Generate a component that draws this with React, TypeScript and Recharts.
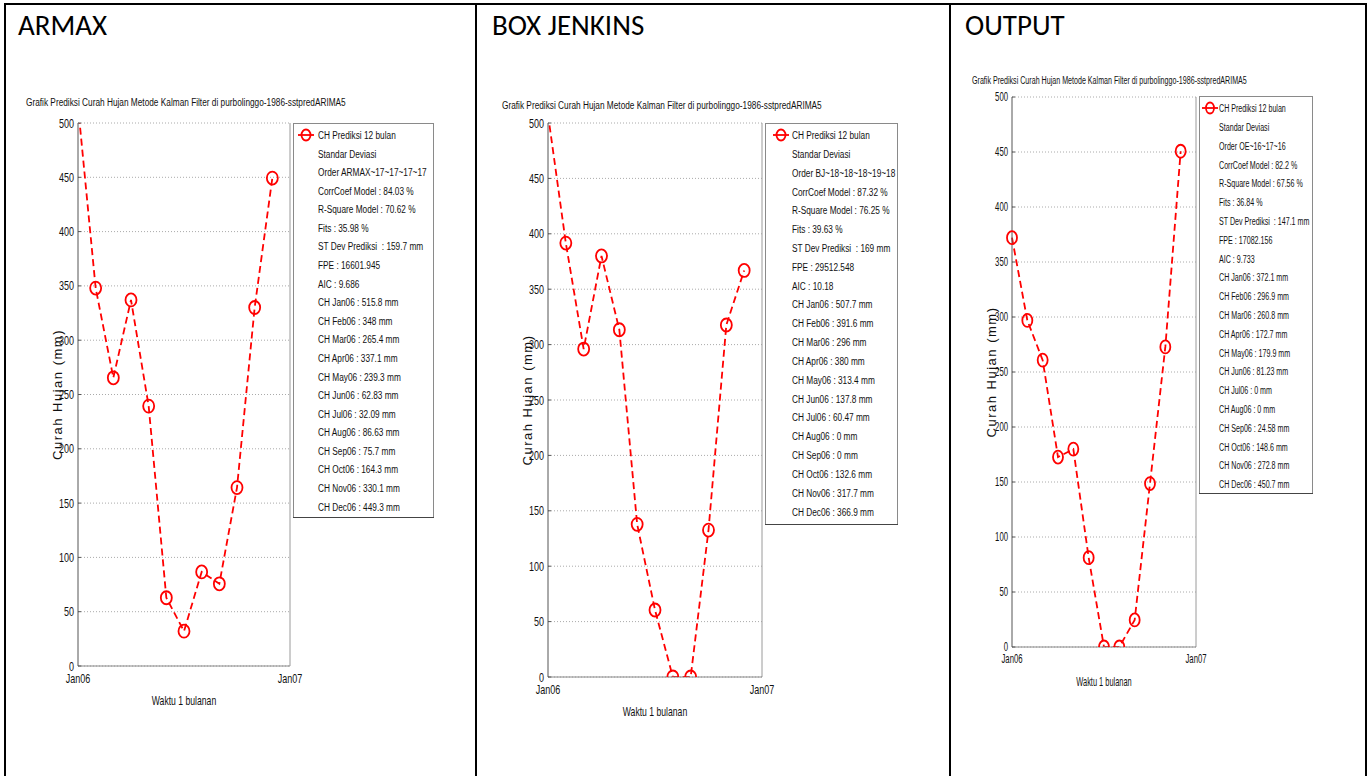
import React from 'react';
import { LineChart, Line, XAxis, YAxis, CartesianGrid, ReferenceLine } from 'recharts';

// ---------- data ----------
const monthLabels = ['Jan06', 'Feb06', 'Mar06', 'Apr06', 'May06', 'Jun06', 'Jul06', 'Aug06', 'Sep06', 'Oct06', 'Nov06', 'Dec06'];
const monthIndex = [0, 1, 2, 3, 4, 5, 6, 7, 8, 9, 10, 11];
const xTickValues = [0, 12];
const xTickLabels = ['Jan06', 'Jan07'];
const yTicks = [0, 50, 100, 150, 200, 250, 300, 350, 400, 450, 500];

const armaxValues = [515.8, 348, 265.4, 337.1, 239.3, 62.83, 32.09, 86.63, 75.7, 164.3, 330.1, 449.3];
const bjValues = [507.7, 391.6, 296, 380, 313.4, 137.8, 60.47, 0, 0, 132.6, 317.7, 366.9];
const oeValues = [372.1, 296.9, 260.8, 172.7, 179.9, 81.23, 0, 0, 24.58, 148.6, 272.8, 450.7];

const armaxStats = ['Standar Deviasi', 'Order ARMAX~17~17~17~17', 'CorrCoef Model : 84.03 %', 'R-Square Model : 70.62 %', 'Fits : 35.98 %', 'ST Dev Prediksi  : 159.7 mm', 'FPE : 16601.945', 'AIC : 9.686'];
const bjStats = ['Standar Deviasi', 'Order BJ~18~18~18~19~18', 'CorrCoef Model : 87.32 %', 'R-Square Model : 76.25 %', 'Fits : 39.63 %', 'ST Dev Prediksi  : 169 mm', 'FPE : 29512.548', 'AIC : 10.18'];
const oeStats = ['Standar Deviasi', 'Order OE~16~17~16', 'CorrCoef Model : 82.2 %', 'R-Square Model : 67.56 %', 'Fits : 36.84 %', 'ST Dev Prediksi  : 147.1 mm', 'FPE : 17082.156', 'AIC : 9.733'];

const panelHeaders = ['ARMAX', 'BOX JENKINS', 'OUTPUT'];
const seriesName = 'CH Prediksi 12 bulan';
const chartTitle = 'Grafik Prediksi Curah Hujan Metode Kalman Filter di purbolinggo-1986-sstpredARIMA5';
const yAxisTitle = 'Curah Hujan (mm)';
const xAxisTitle = 'Waktu 1 bulanan';

// ---------- layout ----------
const FONT = '"Liberation Sans", Arial, sans-serif';
const RED = '#ff0000';

const layouts = [
  {
    headerX: 18, plot: { l: 78, t: 123, r: 290, b: 666 }, sx: 0.72, titleX: 26, titleY: 102,
    legend: { l: 293, t: 123, r: 433, b: 517, textX: 318, firstY: 135, step: 18.58, markerX: 306 }, rx: 5.5, ry: 6.5,
  },
  {
    headerX: 492, plot: { l: 548, t: 123, r: 762, b: 677 }, sx: 0.72, titleX: 502, titleY: 105,
    legend: { l: 765, t: 123, r: 897, b: 524, textX: 792, firstY: 135, step: 18.83, markerX: 781 }, rx: 5.5, ry: 6.5,
  },
  {
    headerX: 965, plot: { l: 1012, t: 97, r: 1196, b: 647 }, sx: 0.62, titleX: 972, titleY: 80,
    legend: { l: 1199, t: 96, r: 1312, b: 493, textX: 1219, firstY: 108, step: 18.8, markerX: 1210 }, rx: 5, ry: 6.5,
  },
];

const datasets = [
  { values: armaxValues, stats: armaxStats },
  { values: bjValues, stats: bjStats },
  { values: oeValues, stats: oeStats },
];

const Y_AXIS_W = 48;
const X_AXIS_H = 54;
const TOP_M = 11;
const RIGHT_M = 22;

function YTick(props: any) {
  const { x, y, payload, sx } = props;
  return (
    <g transform={`translate(${x},${y})`}>
      <line x1={4} x2={7} y1={0} y2={0} stroke="#555" strokeWidth={1} />
      <text transform={`scale(${sx},1)`} x={0} y={0} textAnchor="end" dominantBaseline="central" fontSize={12.5} fontFamily={FONT} fill="#111">
        {payload.value}
      </text>
    </g>
  );
}

function XTick(props: any) {
  const { x, y, payload, sx } = props;
  const idx = xTickValues.indexOf(payload.value);
  return (
    <g transform={`translate(${x},${y})`}>
      <text transform={`scale(${sx},1)`} x={0} y={10} textAnchor="middle" dominantBaseline="central" fontSize={12.5} fontFamily={FONT} fill="#111">
        {xTickLabels[idx]}
      </text>
    </g>
  );
}

function Panel({ idx }: { idx: number }) {
  const L = layouts[idx];
  const D = datasets[idx];
  const data = monthIndex.map((m, i) => ({ x: m, v: D.values[i], name: monthLabels[i] }));
  const boxLeft = L.plot.l - Y_AXIS_W;
  const boxTop = L.plot.t - TOP_M;
  const width = L.plot.r + RIGHT_M - boxLeft;
  const height = L.plot.b + X_AXIS_H - boxTop;
  const renderDot = (p: any) => {
    if (p.cx == null || p.cy == null) return <g key={`d${p.index}`} />;
    return <ellipse key={`d${p.index}`} cx={p.cx} cy={p.cy} rx={L.rx} ry={L.ry} stroke={RED} strokeWidth={1.8} fill="none" />;
  };
  return (
    <div style={{ position: 'absolute', left: boxLeft, top: boxTop }}>
      <LineChart width={width} height={height} data={data} margin={{ top: TOP_M, right: RIGHT_M, left: 0, bottom: 0 }}>
        <CartesianGrid vertical={false} stroke="#aaaaaa" strokeDasharray="1 2" />
        <XAxis
          type="number"
          dataKey="x"
          domain={[0, 12]}
          ticks={xTickValues}
          interval={0}
          height={X_AXIS_H}
          axisLine={{ stroke: '#888' }}
          tickLine={false}
          tickSize={0}
          tickMargin={2}
          tick={<XTick sx={L.sx} />}
        />
        <YAxis
          type="number"
          domain={[0, 500]}
          ticks={yTicks}
          interval={0}
          allowDataOverflow
          width={Y_AXIS_W}
          axisLine={{ stroke: '#555' }}
          tickLine={false}
          tickSize={0}
          tickMargin={4}
          tick={<YTick sx={L.sx} />}
        />
        <ReferenceLine x={12} stroke="#9a9a9a" strokeWidth={1} />
        <Line
          type="linear"
          dataKey="v"
          name={seriesName}
          stroke={RED}
          strokeWidth={1.8}
          strokeDasharray="7 4"
          dot={renderDot}
          activeDot={false}
          isAnimationActive={false}
        />
      </LineChart>
    </div>
  );
}

function Overlay() {
  return (
    <svg width={1372} height={776} style={{ position: 'absolute', left: 0, top: 0 }}>
      <rect x={0} y={0} width={1372} height={776} fill="#ffffff" />
      {/* table borders */}
      <line x1={4} x2={1367} y1={4} y2={4} stroke="#000" strokeWidth={2} />
      {[5, 476, 950, 1366].map((x) => (
        <line key={x} x1={x} x2={x} y1={3} y2={776} stroke="#000" strokeWidth={2} />
      ))}
      {layouts.map((L, i) => {
        const D = datasets[i];
        const lines = [seriesName, ...D.stats, ...monthLabels.map((m, k) => `CH ${m} : ${D.values[k]} mm`)];
        const cx = (L.plot.l + L.plot.r) / 2;
        const cy = (L.plot.t + L.plot.b) / 2;
        return (
          <g key={i}>
            <text x={L.headerX} y={35} fontSize={29} fontFamily='Carlito, "Open Sans", sans-serif' fill="#000">
              {panelHeaders[i]}
            </text>
            <text transform={`translate(${L.titleX},${L.titleY}) scale(${L.sx},1)`} dominantBaseline="central" fontSize={11.5} fontFamily={FONT} fill="#111">
              {chartTitle}
            </text>
            <text transform={`translate(${L.plot.l - 21},${cy}) rotate(-90)`} textAnchor="middle" dominantBaseline="central" fontSize={13} letterSpacing={1.5} fontFamily={FONT} fill="#111">
              {yAxisTitle}
            </text>
            <text transform={`translate(${cx},${L.plot.b + 35}) scale(${L.sx},1)`} textAnchor="middle" dominantBaseline="central" fontSize={12} fontFamily={FONT} fill="#111">
              {xAxisTitle}
            </text>
            <rect x={L.legend.l + 0.5} y={L.legend.t + 0.5} width={L.legend.r - L.legend.l} height={L.legend.b - L.legend.t} fill="#fff" stroke="#8a8a8a" strokeWidth={1} />
            <line x1={L.legend.l} x2={L.legend.r + 1} y1={L.legend.b + 0.5} y2={L.legend.b + 0.5} stroke="#444" strokeWidth={1} />
            <line x1={L.legend.markerX - 8} x2={L.legend.markerX + 8} y1={L.legend.firstY} y2={L.legend.firstY} stroke={RED} strokeWidth={1.8} />
            <ellipse cx={L.legend.markerX} cy={L.legend.firstY} rx={L.rx - 1} ry={L.ry - 1} stroke={RED} strokeWidth={1.8} fill="none" />
            {lines.map((t, k) => (
              <text key={k} transform={`translate(${L.legend.textX},${L.legend.firstY + k * L.legend.step}) scale(${L.sx},1)`} dominantBaseline="central" fontSize={11.5} fontFamily={FONT} fill="#111" style={{ whiteSpace: 'pre' }}>
                {t}
              </text>
            ))}
          </g>
        );
      })}
    </svg>
  );
}

export default function App() {
  return (
    <div style={{ position: 'absolute', left: 0, top: 0, width: 1372, height: 776, background: '#fff', overflow: 'hidden' }}>
      <Overlay />
      <Panel idx={0} />
      <Panel idx={1} />
      <Panel idx={2} />
    </div>
  );
}
